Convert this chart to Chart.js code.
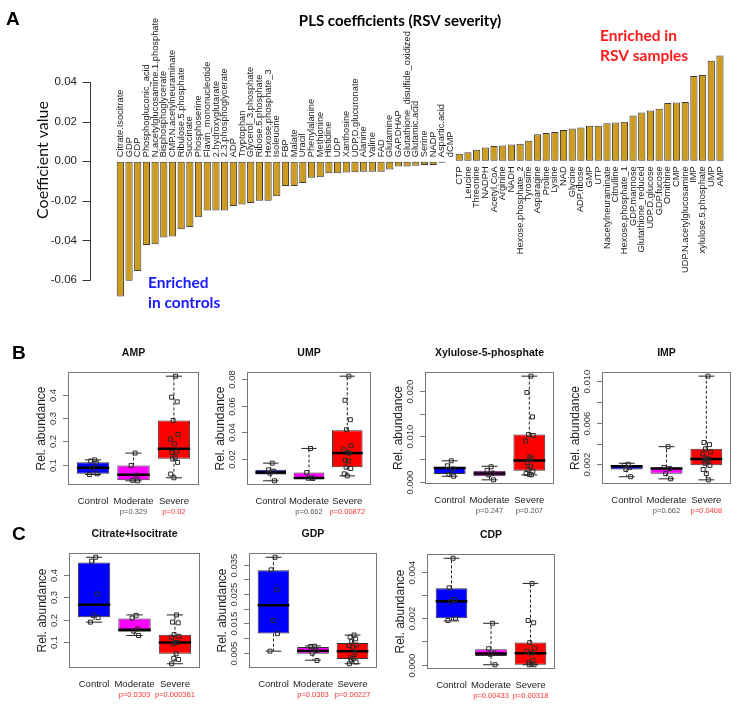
<!DOCTYPE html>
<html>
<head>
<meta charset="utf-8">
<script src="https://cdn.jsdelivr.net/npm/chart.js@4.4.1/dist/chart.umd.min.js"></script>
<style>
  body { margin: 0; background: #fff; }
  #page { position: relative; width: 739px; height: 706px; overflow: hidden; }
  .panel { position: absolute; }
</style>
</head>
<body>
<div id="page">
  <div class="panel" style="left:0;top:0;width:739px;height:352px"><canvas id="pls"></canvas></div>
</div>
<script>
// ---- panel A: PLS coefficients ----
const plsNames = [
  'Citrate.Isocitrate', 'GDP', 'CDP', 'Phosphogluconic_acid', 'N.acetylglucosamine.1.phosphate',
  'Bisphosphoglycerate', 'CMP.N.acetylneuraminate', 'Ribulose.5.phosphate', 'Succinate', 'Phosphoserine',
  'Flavin_mononucleotide', '2.hydroxyglutarate', '2.3.phosphoglycerate', 'ADP', 'Tryptophan',
  'Glycerol_3.phosphate', 'Ribose.5.phosphate', 'Hexose.phosphate_3', 'Isoleucine', 'FBP',
  'Malate', 'Uracil', 'Phenylalanine', 'Methionine', 'Histidine',
  'UDP', 'Xanthosine', 'UDP.D.glucuronate', 'Alanine', 'Valine',
  'FAD', 'Glutamine', 'GAP.DHAP', 'Glutathione_disulfide_oxidized', 'Glutamic.acid',
  'Serine', 'NADP', 'Aspartic.acid', 'dCMP',
  'CTP', 'Leucine', 'Threonine', 'NADPH', 'Acetyl.CoA',
  'Arginine', 'NADH', 'Hexose.phosphate_2', 'Tyrosine', 'Asparagine',
  'Proline', 'Lysine', 'NAD', 'Glycine', 'ADP.ribose',
  'GMP', 'UTP', 'Nacetylneuraminate', 'Citrulline', 'Hexose.phosphate_1',
  'GDP.mannose', 'Glutathione_reduced', 'UDP.D.glucose', 'GDP.fucose', 'Ornithine',
  'CMP', 'UDP.N.acetylglucosamine', 'IMP', 'xylulose.5.phosphate', 'UMP', 'AMP'
];
const plsCoef = [
  -0.0683, -0.0604, -0.0555, -0.0423, -0.0419,
  -0.0385, -0.0380, -0.0343, -0.0332, -0.0283,
  -0.0249, -0.0249, -0.0249, -0.0226, -0.0219,
  -0.0211, -0.0200, -0.0200, -0.0177, -0.0125,
  -0.0125, -0.0110, -0.0083, -0.0081, -0.0060,
  -0.0060, -0.0057, -0.0056, -0.0053, -0.0053,
  -0.0053, -0.0042, -0.0026, -0.0026, -0.0023,
  -0.0019, -0.0019, -0.0008, -0.0003,
  0.0038, 0.0045, 0.0058, 0.0070, 0.0077,
  0.0080, 0.0085, 0.0089, 0.0104, 0.0136,
  0.0143, 0.0148, 0.0158, 0.0165, 0.0170,
  0.0180, 0.0180, 0.0192, 0.0196, 0.0200,
  0.0231, 0.0246, 0.0256, 0.0266, 0.0294,
  0.0297, 0.0299, 0.0431, 0.0436, 0.0508, 0.0534
];
const plsRange = [-0.0732, 0.0583];

// ---- panels B and C: box plots ----
const groups = ['Control', 'Moderate', 'Severe'];

const ampPoints = [
  [0.121, 0.116, 0.108, 0.085, 0.061, 0.058],
  [0.150, 0.097, 0.055, 0.033, 0.031],
  [0.48, 0.39, 0.37, 0.29, 0.23, 0.21, 0.19, 0.155, 0.152, 0.13, 0.125, 0.11, 0.06, 0.044]
];
const ampBox = [[0.058, 0.061, 0.087, 0.111, 0.121], [0.031, 0.033, 0.057, 0.097, 0.150], [0.044, 0.126, 0.169, 0.29, 0.48]];
const ampTicks = [0.1, 0.2, 0.3, 0.4];
const ampTickLabels = ['0.1', '0.2', '0.3', '0.4'];
const ampP = ['p=0.329', 'p=0.02'];

const umpPoints = [
  [0.017, 0.012, 0.011, 0.0095, 0.0038],
  [0.028, 0.010, 0.0060, 0.0057, 0.0055],
  [0.082, 0.064, 0.0495, 0.042, 0.030, 0.027, 0.025, 0.0245, 0.019, 0.0185, 0.014, 0.013, 0.009, 0.0075]
];
const umpBox = [[0.0038, 0.0085, 0.010, 0.012, 0.017], [0.0055, 0.0056, 0.0059, 0.010, 0.028], [0.0075, 0.014, 0.0245, 0.0415, 0.082]];
const umpTicks = [0.02, 0.04, 0.06, 0.08];
const umpTickLabels = ['0.02', '0.04', '0.06', '0.08'];
const umpP = ['p=0.662', 'p=0.00872'];

const xylPoints = [
  [0.0046, 0.0035, 0.0028, 0.0016, 0.0012],
  [0.0033, 0.0025, 0.0019, 0.0015, 0.0004],
  [0.0233, 0.0197, 0.0143, 0.0104, 0.0102, 0.009, 0.0055, 0.0052, 0.0042, 0.0033, 0.0028, 0.0023, 0.0018, 0.0016, 0.0015]
];
const xylBox = [[0.0012, 0.0017, 0.0030, 0.0033, 0.0046], [0.0004, 0.0012, 0.0018, 0.0024, 0.0034], [0.0015, 0.0024, 0.0047, 0.0104, 0.0233]];
const xylTicks = [0, 0.005, 0.010, 0.015, 0.020];
const xylTickLabels = ['0.000', '', '0.010', '', '0.020'];
const xylP = ['p=0.247', 'p=0.207'];

const impPoints = [
  [0.0020, 0.0019, 0.0017, 0.0015, 0.0008],
  [0.0037, 0.0017, 0.0016, 0.0011, 0.0006],
  [0.0105, 0.0041, 0.0039, 0.0035, 0.0032, 0.0030, 0.0026, 0.0025, 0.0024, 0.0023, 0.0021, 0.0019, 0.0015, 0.0011, 0.0005]
];
const impBox = [[0.0008, 0.0015, 0.0018, 0.0019, 0.0021], [0.0006, 0.0011, 0.0016, 0.0017, 0.0037], [0.0005, 0.0019, 0.0025, 0.0035, 0.0105]];
const impTicks = [0.002, 0.004, 0.006, 0.008, 0.010];
const impTickLabels = ['0.002', '', '0.006', '', '0.010'];
const impP = ['p=0.662', 'p=0.0408'];

const citPoints = [
  [0.477, 0.46, 0.315, 0.22, 0.21, 0.19],
  [0.22, 0.208, 0.16, 0.15, 0.131],
  [0.222, 0.19, 0.187, 0.135, 0.127, 0.123, 0.1, 0.1, 0.093, 0.05, 0.03, 0.025, 0.006]
];
const citBox = [[0.19, 0.212, 0.267, 0.454, 0.477], [0.131, 0.147, 0.156, 0.206, 0.222], [0.006, 0.05, 0.1, 0.134, 0.222]];
const citTicks = [0.1, 0.2, 0.3, 0.4];
const citTickLabels = ['0.1', '0.2', '0.3', '0.4'];
const citP = ['p=0.0303', 'p=0.000361'];

const gdpPoints = [
  [0.0376, 0.0333, 0.0265, 0.016, 0.0115, 0.0055],
  [0.0072, 0.0071, 0.0057, 0.0048, 0.0023],
  [0.011, 0.0103, 0.0097, 0.0089, 0.0076, 0.0074, 0.0068, 0.0049, 0.0032, 0.003, 0.0024, 0.0018, 0.0012]
];
const gdpBox = [[0.0055, 0.0115, 0.0212, 0.0332, 0.0376], [0.0024, 0.0046, 0.0056, 0.0069, 0.0073], [0.0012, 0.0028, 0.0055, 0.0083, 0.011]];
const gdpTicks = [0.005, 0.010, 0.015, 0.020, 0.025, 0.030, 0.035];
const gdpTickLabels = ['0.005', '', '0.015', '', '0.025', '', '0.035'];
const gdpP = ['p=0.0303', 'p=0.00227'];

const cdpPoints = [
  [0.00457, 0.0033, 0.0028, 0.0027, 0.0020, 0.0019],
  [0.00178, 0.00069, 0.0005, 0.00045, 0.0],
  [0.00349, 0.0019, 0.0018, 0.00095, 0.0007, 0.00058, 0.0005, 0.00018, 0.0001, 0.00003, 0, 0]
];
const cdpBox = [[0.00188, 0.0020, 0.00273, 0.00328, 0.00457], [0, 0.00037, 0.00048, 0.00067, 0.00178], [0, 0, 0.00049, 0.00095, 0.00349]];
const cdpTicks = [0, 0.001, 0.002, 0.003, 0.004];
const cdpTickLabels = ['0.000', '', '0.002', '', '0.004'];
const cdpP = ['p=0.00433', 'p=0.00318'];

// ---- drawing ----
const R_FONT = '"Liberation Sans", Arial, sans-serif';
const PPT_FONT = 'Lato, "Open Sans", sans-serif';
const BOX_COLORS = ['#0000ff', '#ff00ff', '#ff0000'];
const JIT = [0.04, -0.06, 0.08, -0.02, 0.1, -0.09, 0.01, 0.06, -0.05, 0.03, -0.03, 0.09, -0.08, 0.0, 0.05];

const plsDecor = {
  id: 'plsDecor',
  afterDatasetsDraw(chart) {
    const { ctx, chartArea } = chart;
    const x = chart.scales.x, y = chart.scales.y;
    const y0 = y.getPixelForValue(0);
    ctx.save();

    // names along the zero line
    ctx.font = '9.3px ' + R_FONT;
    ctx.fillStyle = '#222';
    ctx.textBaseline = 'middle';
    plsNames.forEach((name, i) => {
      const neg = plsCoef[i] < 0;
      ctx.save();
      ctx.translate(x.getPixelForValue(i), neg ? y0 - 4 : y0 + 5);
      ctx.rotate(-Math.PI / 2);
      ctx.textAlign = neg ? 'left' : 'right';
      ctx.fillText(name, 0, 0);
      ctx.restore();
    });

    // R style axis: line only between first and last tick
    const ax = chartArea.left - 25.5;
    const tp = y.ticks.map(t => Math.round(y.getPixelForValue(t.value)) + 0.5);
    ctx.strokeStyle = '#333';
    ctx.lineWidth = 1;
    ctx.beginPath();
    ctx.moveTo(ax, Math.min(...tp));
    ctx.lineTo(ax, Math.max(...tp));
    tp.forEach(p => { ctx.moveTo(ax - 8, p); ctx.lineTo(ax, p); });
    ctx.stroke();

    ctx.save();
    ctx.translate(43, 160);
    ctx.rotate(-Math.PI / 2);
    ctx.textAlign = 'center';
    ctx.font = '16px ' + PPT_FONT;
    ctx.fillStyle = '#111';
    ctx.fillText('Coefficient value', 0, 0);
    ctx.restore();

    ctx.textAlign = 'left';
    ctx.fillStyle = '#000';
    ctx.font = 'bold 19px ' + R_FONT;
    ctx.fillText('A', 6, 20);
    ctx.textAlign = 'center';
    ctx.font = 'bold 15px ' + PPT_FONT;
    ctx.fillText('PLS coefficients (RSV severity)', 400, 21);

    ctx.textAlign = 'left';
    ctx.font = 'bold 15.5px ' + PPT_FONT;
    ctx.fillStyle = '#1a1aff';
    ctx.fillText('Enriched', 148, 283);
    ctx.fillText('in controls', 148, 303);
    ctx.fillStyle = '#ff1a1a';
    ctx.fillText('Enriched in', 600, 36);
    ctx.fillText('RSV samples', 600, 56);
    ctx.restore();
  }
};

new Chart(document.getElementById('pls'), {
  type: 'bar',
  data: {
    labels: plsNames,
    datasets: [{
      data: plsCoef,
      backgroundColor: '#cd9b1d',
      borderColor: '#3a3a3a',
      borderWidth: 1,
      borderSkipped: false,
      barPercentage: 0.83,
      categoryPercentage: 1
    }]
  },
  options: {
    animation: false,
    responsive: true,
    maintainAspectRatio: false,
    layout: { padding: { left: 0, top: 4, right: 14.7, bottom: 3 } },
    plugins: { legend: { display: false }, tooltip: { enabled: false } },
    scales: {
      x: { display: false },
      y: {
        min: plsRange[0],
        max: plsRange[1],
        afterFit: s => { s.width = 116; },
        border: { display: false },
        grid: { drawOnChartArea: false, drawTicks: false },
        ticks: {
          stepSize: 0.02,
          includeBounds: false,
          padding: 39,
          color: '#222',
          font: { family: R_FONT, size: 11.5 },
          callback: v => v.toFixed(2)
        }
      }
    }
  },
  plugins: [plsDecor]
});

function boxDecor(p) {
  return {
    id: 'boxDecor',
    afterDatasetDraw(chart, args) {
      if (args.meta.type !== 'bar') return;
      const { ctx } = chart;
      const y = chart.scales.y;
      ctx.save();
      args.meta.data.forEach((bar, g) => {
        const b = p.boxes[g];
        const cx = bar.x, hw = bar.width / 2;
        const yp = v => y.getPixelForValue(v);
        ctx.strokeStyle = '#222';
        ctx.lineWidth = 1;
        ctx.setLineDash([3, 2]);
        ctx.beginPath();
        ctx.moveTo(cx, yp(b[3])); ctx.lineTo(cx, yp(b[4]));
        ctx.moveTo(cx, yp(b[1])); ctx.lineTo(cx, yp(b[0]));
        ctx.stroke();
        ctx.setLineDash([]);
        ctx.beginPath();
        ctx.moveTo(cx - hw / 2, yp(b[4])); ctx.lineTo(cx + hw / 2, yp(b[4]));
        ctx.moveTo(cx - hw / 2, yp(b[0])); ctx.lineTo(cx + hw / 2, yp(b[0]));
        ctx.stroke();
        ctx.strokeStyle = '#000';
        ctx.lineWidth = 2.5;
        ctx.beginPath();
        ctx.moveTo(cx - hw, yp(b[2])); ctx.lineTo(cx + hw, yp(b[2]));
        ctx.stroke();
      });
      ctx.restore();
    },
    afterDraw(chart) {
      const { ctx, chartArea: ca } = chart;
      const x = chart.scales.x, y = chart.scales.y;
      ctx.save();
      ctx.strokeStyle = '#777';
      ctx.lineWidth = 1;
      ctx.strokeRect(ca.left + 0.5, ca.top + 0.5, ca.width - 1, ca.height - 1);

      ctx.fillStyle = '#333';
      ctx.textAlign = 'center';
      ctx.textBaseline = 'middle';
      ctx.font = '9.5px ' + R_FONT;
      ctx.beginPath();
      p.ticks.forEach((v, i) => {
        const py = Math.round(y.getPixelForValue(v)) + 0.5;
        ctx.moveTo(ca.left - 5, py); ctx.lineTo(ca.left, py);
        if (p.tickLabels[i]) {
          ctx.save();
          ctx.translate(ca.left - 15, py);
          ctx.rotate(-Math.PI / 2);
          ctx.fillText(p.tickLabels[i], 0, 0);
          ctx.restore();
        }
      });
      ctx.stroke();

      ctx.save();
      ctx.translate(ca.left - 26, (ca.top + ca.bottom) / 2);
      ctx.rotate(-Math.PI / 2);
      ctx.font = '12px ' + R_FONT;
      ctx.fillStyle = '#222';
      ctx.fillText('Rel. abundance', 0, 0);
      ctx.restore();

      ctx.fillStyle = '#111';
      ctx.font = 'bold 10.5px ' + R_FONT;
      ctx.fillText(p.title, (ca.left + ca.right) / 2, ca.top - 19);

      groups.forEach((name, g) => {
        const px = x.getPixelForValue(g + 1);
        ctx.fillStyle = '#222';
        ctx.font = '9.5px ' + R_FONT;
        ctx.fillText(name, px, ca.bottom + 16);
        if (g > 0) {
          const txt = p.p[g - 1];
          ctx.fillStyle = parseFloat(txt.slice(2)) < 0.05 ? '#ff3333' : '#555';
          ctx.font = '7.5px ' + R_FONT;
          ctx.fillText(txt, px, ca.bottom + 27);
        }
      });

      if (p.letter) {
        ctx.fillStyle = '#000';
        ctx.textAlign = 'left';
        ctx.font = 'bold 19px ' + R_FONT;
        ctx.fillText(p.letter, ca.left - 62 + p.letterX, ca.top - 18);
      }
      ctx.restore();
    }
  };
}

const panels = [
  { title: 'AMP', frame: [68, 372, 199, 485], points: ampPoints, boxes: ampBox, ticks: ampTicks, tickLabels: ampTickLabels, p: ampP, letter: 'B', letterX: 6 },
  { title: 'UMP', frame: [247, 372, 371, 485], points: umpPoints, boxes: umpBox, ticks: umpTicks, tickLabels: umpTickLabels, p: umpP },
  { title: 'Xylulose-5-phosphate', frame: [425, 372, 554, 484], points: xylPoints, boxes: xylBox, ticks: xylTicks, tickLabels: xylTickLabels, p: xylP },
  { title: 'IMP', frame: [602, 372, 731, 484], points: impPoints, boxes: impBox, ticks: impTicks, tickLabels: impTickLabels, p: impP },
  { title: 'Citrate+Isocitrate', frame: [69, 553, 200, 668], points: citPoints, boxes: citBox, ticks: citTicks, tickLabels: citTickLabels, p: citP, letter: 'C', letterX: 5 },
  { title: 'GDP', frame: [249, 553, 377, 668], points: gdpPoints, boxes: gdpBox, ticks: gdpTicks, tickLabels: gdpTickLabels, p: gdpP },
  { title: 'CDP', frame: [427, 554, 555, 669], points: cdpPoints, boxes: cdpBox, ticks: cdpTicks, tickLabels: cdpTickLabels, p: cdpP }
];

const page = document.getElementById('page');
panels.forEach(p => {
  const [L, T, R, B] = p.frame;
  const div = document.createElement('div');
  div.className = 'panel';
  div.style.left = (L - 62) + 'px';
  div.style.top = (T - 32) + 'px';
  div.style.width = (R - L + 70) + 'px';
  div.style.height = (B - T + 64) + 'px';
  const cv = document.createElement('canvas');
  div.appendChild(cv);
  page.appendChild(div);

  const all = p.points.flat().concat(p.boxes.flat());
  const lo = Math.min(...all), hi = Math.max(...all);
  const pad = (hi - lo) * 0.04;
  const pts = [];
  p.points.forEach((arr, g) => arr.forEach((v, k) => pts.push({ x: g + 1 + JIT[k % JIT.length], y: v })));

  new Chart(cv, {
    type: 'bar',
    data: {
      datasets: [
        {
          type: 'scatter',
          data: pts,
          pointStyle: 'rect',
          radius: 2.8,
          borderColor: '#2a2a2a',
          borderWidth: 1,
          backgroundColor: 'rgba(0,0,0,0)',
          order: 0
        },
        {
          type: 'bar',
          data: p.boxes.map((b, g) => ({ x: g + 1, y: [b[1], b[3]] })),
          backgroundColor: BOX_COLORS,
          borderColor: '#333',
          borderWidth: 1,
          borderSkipped: false,
          categoryPercentage: 0.8,
          barPercentage: 1,
          order: 1
        }
      ]
    },
    options: {
      animation: false,
      responsive: true,
      maintainAspectRatio: false,
      layout: { padding: { left: 62, top: 32, right: 8, bottom: 32 } },
      plugins: { legend: { display: false }, tooltip: { enabled: false } },
      scales: {
        x: {
          type: 'linear', min: 0.38, max: 3.62, display: false, offset: false,
          afterBuildTicks: s => { s.ticks = [1, 2, 3].map(v => ({ value: v })); }
        },
        y: { type: 'linear', min: lo - pad, max: hi + pad, display: false }
      }
    },
    plugins: [boxDecor(p)]
  });
});
</script>
</body>
</html>
